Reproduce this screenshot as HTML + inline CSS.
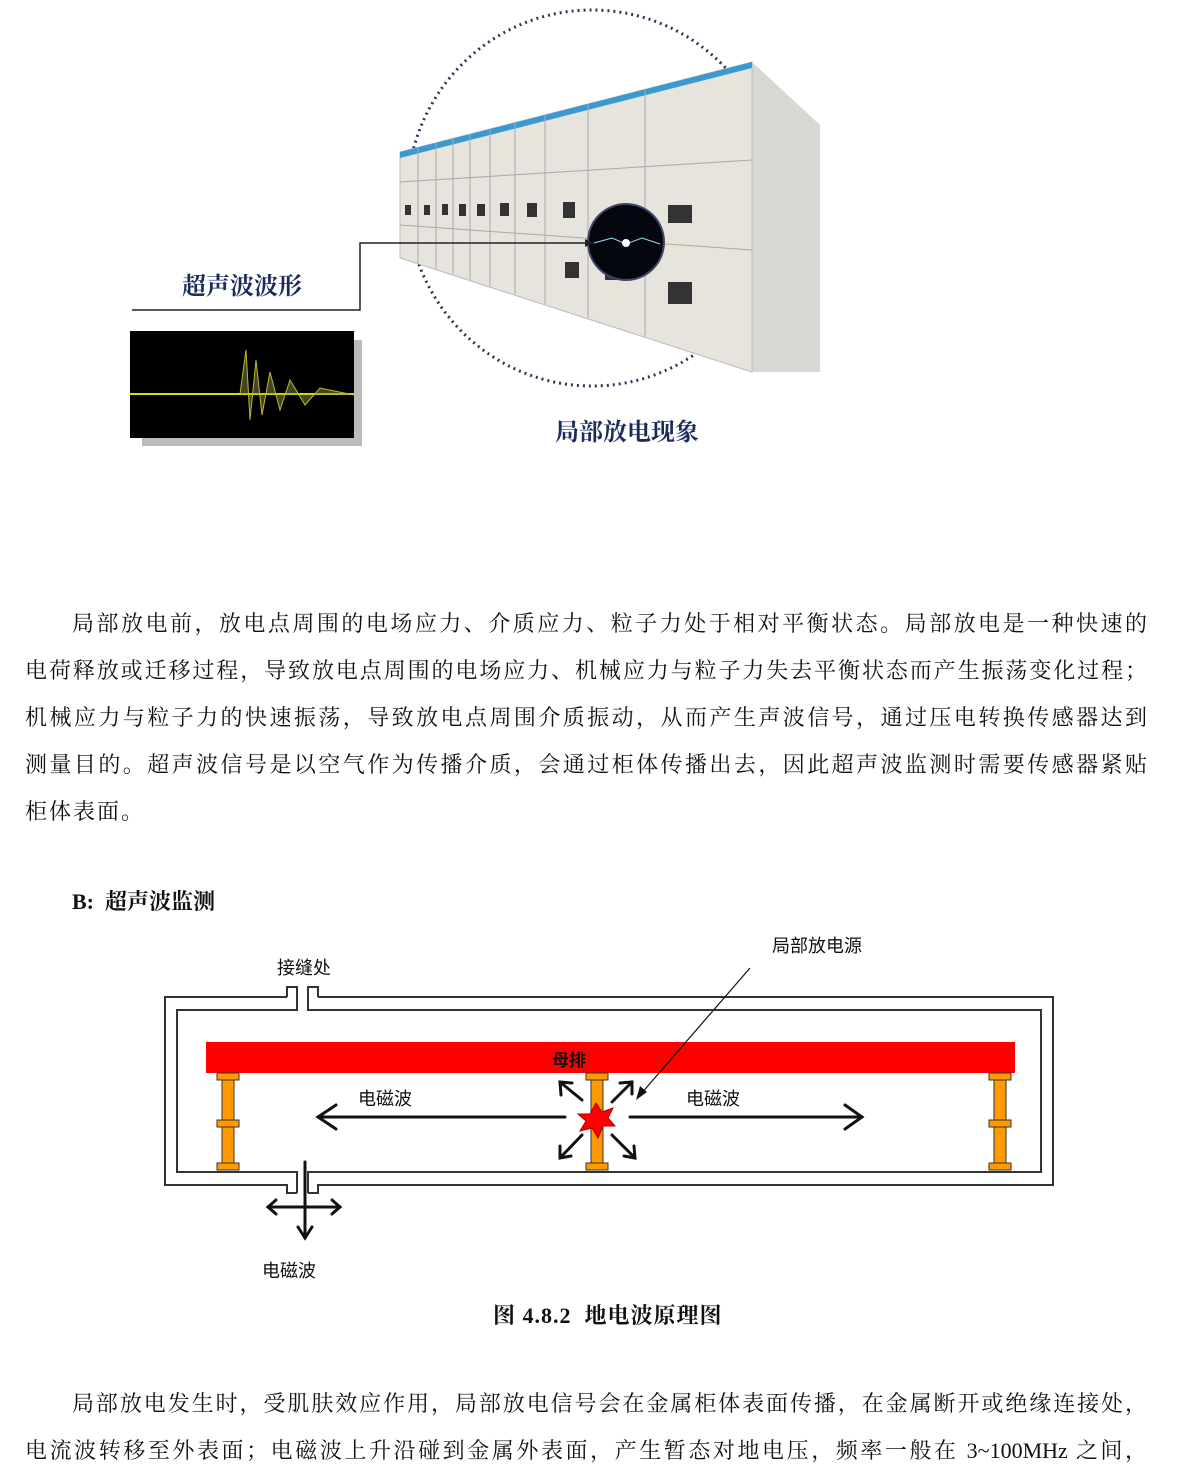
<!DOCTYPE html>
<html><head><meta charset="utf-8"><style>
body{margin:0;background:#fff;width:1200px;height:1460px;position:relative;overflow:hidden;font-family:"Liberation Serif","Noto Serif CJK SC",serif;color:#111}
.a{position:absolute;white-space:nowrap}
.ln{position:absolute;left:25px;width:1122px;font-size:22px;text-align:justify;text-align-last:justify;white-space:nowrap}
.s{font-family:"Liberation Sans","Noto Sans CJK SC",sans-serif;font-size:18px}
</style></head><body>
<svg class="a" style="left:0;top:0" width="1200" height="460">
<ellipse cx="592" cy="198" rx="185" ry="188" fill="none" stroke="#335" stroke-width="3" stroke-dasharray="2 4"/>
<polygon points="752,62 820,125 820,372 752,372" fill="#d8d8d2"/>
<polygon points="400,152 752,62 752,372 400,258" fill="#e6e4dc" stroke="#bbb"/>
<polygon points="400,152 752,62 752,68 400,158" fill="#3a9ad0"/>
<g stroke="#aaa" stroke-width="1">
<line x1="418" y1="148" x2="418" y2="263"/><line x1="436" y1="143" x2="436" y2="269"/><line x1="453" y1="139" x2="453" y2="274"/><line x1="470" y1="134" x2="470" y2="280"/><line x1="490" y1="129" x2="490" y2="286"/><line x1="515" y1="123" x2="515" y2="294"/><line x1="545" y1="115" x2="545" y2="304"/><line x1="588" y1="104" x2="588" y2="318"/><line x1="645" y1="90" x2="645" y2="337"/>
<line x1="400" y1="182" x2="752" y2="160"/><line x1="400" y1="225" x2="752" y2="250"/></g>
<g fill="#333"><rect x="405" y="205" width="6" height="10"/><rect x="424" y="205" width="6" height="10"/><rect x="442" y="204" width="6" height="11"/><rect x="459" y="204" width="7" height="12"/><rect x="477" y="204" width="8" height="12"/><rect x="500" y="203" width="9" height="13"/><rect x="527" y="203" width="10" height="14"/><rect x="563" y="202" width="12" height="16"/><rect x="668" y="205" width="24" height="18"/><rect x="668" y="282" width="24" height="22"/><rect x="605" y="262" width="18" height="18"/><rect x="565" y="262" width="14" height="16"/></g>
<circle cx="626" cy="242" r="38" fill="#05070e" stroke="#446" stroke-width="2"/>
<path d="M594 243 L612 238 L626 244 L642 238 L660 244" stroke="#9df" fill="none"/>
<circle cx="626" cy="243" r="4" fill="#fff"/>
<polyline points="132,310 360,310 360,243 585,243" fill="none" stroke="#222" stroke-width="1.5"/>
<polygon points="585,239 593,243 585,247" fill="#222"/>
<rect x="142" y="340" width="220" height="106" fill="#bbb"/>
<rect x="130" y="331" width="224" height="107" fill="#000"/>
<line x1="130" y1="394" x2="354" y2="394" stroke="#dd0" stroke-width="2"/>
<path d="M240 394 L246 350 L250 420 L256 360 L262 415 L270 372 L280 410 L290 380 L305 405 L320 388 L354 395" stroke="#bb2" fill="#885" fill-opacity=".5" stroke-width="1"/>
</svg>
<div class="a" style="left:182px;top:266px;font-size:24px;font-weight:bold;color:#1c2b5c">超声波波形</div>
<div class="a" style="left:555px;top:412px;font-size:24px;font-weight:bold;color:#1c2b5c">局部放电现象</div>

<div class="ln" style="top:607px;left:72px;width:1075px">局部放电前，放电点周围的电场应力、介质应力、粒子力处于相对平衡状态。局部放电是一种快速的</div>
<div class="ln" style="top:654px">电荷释放或迁移过程，导致放电点周围的电场应力、机械应力与粒子力失去平衡状态而产生振荡变化过程；</div>
<div class="ln" style="top:701px">机械应力与粒子力的快速振荡，导致放电点周围介质振动，从而产生声波信号，通过压电转换传感器达到</div>
<div class="ln" style="top:748px">测量目的。超声波信号是以空气作为传播介质，会通过柜体传播出去，因此超声波监测时需要传感器紧贴</div>
<div class="ln" style="top:795px;text-align-last:left;letter-spacing:2px">柜体表面。</div>

<div class="a" style="left:72px;top:885px;font-size:22px;font-weight:bold">B:&nbsp; 超声波监测</div>

<svg class="a" style="left:0;top:930px" width="1200" height="360">
<g fill="none" stroke="#333" stroke-width="2">
<polyline points="287,67 165,67 165,255 287,255 287,263 297,263"/>
<polyline points="318,67 1053,67 1053,255 318,255 318,263 308,263"/>
<polyline points="287,67 287,57 297,57 297,80 177,80 177,242 297,242 297,263"/>
<polyline points="318,67 318,57 308,57 308,80 1041,80 1041,242 308,242 308,263"/>
</g>
<rect x="206" y="112" width="809" height="31" fill="#f00"/>
<g fill="#f90" stroke="#333" stroke-width="1">
<rect x="222" y="143" width="12" height="97"/><rect x="217" y="143" width="22" height="7"/><rect x="217" y="190" width="22" height="7"/><rect x="217" y="233" width="22" height="7"/>
<rect x="591" y="143" width="12" height="97"/><rect x="586" y="143" width="22" height="7"/><rect x="586" y="233" width="22" height="7"/>
<rect x="994" y="143" width="12" height="97"/><rect x="989" y="143" width="22" height="7"/><rect x="989" y="190" width="22" height="7"/><rect x="989" y="233" width="22" height="7"/>
</g>
<polygon points="596,173 602,182 613,178 608,188 615,196 603,196 598,208 592,198 580,201 586,191 578,184 590,184" fill="#f00" stroke="#a00"/>
<g stroke="#111" stroke-width="3" fill="none" stroke-linecap="round">
<line x1="565" y1="187" x2="318" y2="187"/><polyline points="336,175 318,187 336,199"/>
<line x1="630" y1="187" x2="862" y2="187"/><polyline points="845,175 862,187 845,199"/>
<line x1="582" y1="170" x2="560" y2="152"/><polyline points="561,165 560,152 572,153"/>
<line x1="612" y1="172" x2="632" y2="152"/><polyline points="620,153 632,152 632,164"/>
<line x1="582" y1="205" x2="560" y2="228"/><polyline points="560,216 560,228 571,226"/>
<line x1="612" y1="205" x2="635" y2="228"/><polyline points="624,226 635,228 634,216"/>
<line x1="305" y1="232" x2="305" y2="308"/><polyline points="298,297 305,308 312,297"/>
<line x1="268" y1="277" x2="340" y2="277"/><polyline points="276,270 268,277 276,284"/><polyline points="332,270 340,277 332,284"/>
</g>
<line x1="750" y1="38" x2="640" y2="165" stroke="#111" stroke-width="1.2"/>
<polygon points="636,170 640,156 647,162" fill="#111"/>
</svg>
<div class="a s" style="left:772px;top:932px">局部放电源</div>
<div class="a s" style="left:277px;top:954px">接缝处</div>
<div class="a s" style="left:552px;top:1046px;font-weight:bold;font-size:17px">母排</div>
<div class="a s" style="left:358px;top:1085px">电磁波</div>
<div class="a s" style="left:686px;top:1085px">电磁波</div>
<div class="a s" style="left:262px;top:1257px">电磁波</div>
<div class="a" style="left:493px;top:1299px;font-size:22px;font-weight:bold;letter-spacing:1px">图 4.8.2&nbsp; 地电波原理图</div>

<div class="ln" style="top:1387px;left:72px;width:1075px">局部放电发生时，受肌肤效应作用，局部放电信号会在金属柜体表面传播，在金属断开或绝缘连接处，</div>
<div class="ln" style="top:1434px">电流波转移至外表面；电磁波上升沿碰到金属外表面，产生暂态对地电压，频率一般在 3~100MHz 之间，</div>
</body></html>
